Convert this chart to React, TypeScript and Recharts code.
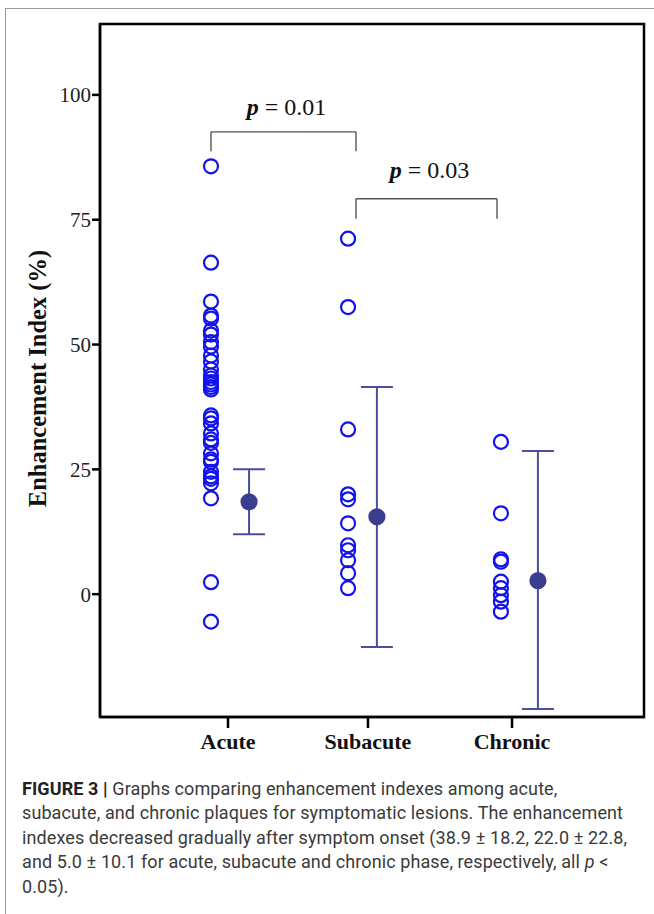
import React from 'react';
import {
  ScatterChart,
  Scatter,
  XAxis,
  YAxis,
  ErrorBar,
  ReferenceArea,
  ReferenceLine,
} from 'recharts';

// ---------- data ----------
const categories = ['Acute', 'Subacute', 'Chronic'];

const acuteValues = [
  85.7, 66.4, 58.6, 55.8, 55.2, 52.8, 52.0, 50.5, 49.6, 47.8, 46.6, 45.0, 43.8,
  43.2, 42.5, 42.0, 41.5, 41.0, 35.8, 35.2, 34.2, 32.2, 31.0, 30.3, 28.2, 27.0,
  26.5, 24.5, 23.6, 23.1, 22.2, 19.2, 2.4, -5.5,
];
const subacuteValues = [71.2, 57.5, 33.0, 20.0, 19.0, 14.2, 9.8, 8.8, 6.8, 4.2, 1.2];
const chronicValues = [30.5, 16.2, 7.0, 6.5, 2.5, 1.2, -0.2, -1.5, -3.5];

const groupMeans = [18.5, 15.5, 2.7];
const groupErrLow = [6.5, 26.1, 25.7];
const groupErrHigh = [6.5, 26.0, 26.0];

const yTicks = [0, 25, 50, 75, 100];

const pValues = ['0.01', '0.03'];

// ---------- layout (positions on a 0..1 x-scale) ----------
const TICK_POS = [0.2353, 0.4926, 0.7574];
const DOT_POS = [0.204, 0.456, 0.737];
const MEAN_POS = [0.274, 0.509, 0.805];
const Y_DOMAIN: [number, number] = [-24.6, 114.2];
const BRACKETS = [
  { x1: 0.204, x2: 0.4706, top: 92.6, leg: 88.7, textGap: 17 },
  { x1: 0.4706, x2: 0.7298, top: 79.2, leg: 75.2, textGap: 21 },
];

const groups = [acuteValues, subacuteValues, chronicValues];
const pointData = groups.flatMap((vals, gi) =>
  vals.map((v) => ({ x: DOT_POS[gi], y: v }))
);
const meanData = groupMeans.map((m, i) => ({
  x: MEAN_POS[i],
  y: m,
  err: [groupErrLow[i], groupErrHigh[i]],
}));

const OpenCircle = (props: any) => {
  const { cx, cy } = props;
  if (cx == null || cy == null) return null;
  return <circle cx={cx} cy={cy} r={7} fill="none" stroke="#1212ee" strokeWidth={2.2} />;
};
const MeanDot = (props: any) => {
  const { cx, cy } = props;
  if (cx == null || cy == null) return null;
  return <circle cx={cx} cy={cy} r={8.6} fill="#3b3e8e" />;
};

const serif = '"Liberation Serif", "Times New Roman", serif';

export default function App() {
  return (
    <div
      style={{
        position: 'absolute',
        left: 0,
        top: 0,
        width: 654,
        height: 914,
        background: '#fff',
        overflow: 'hidden',
      }}
    >
      <div
        style={{
          position: 'absolute',
          left: 5,
          top: 8,
          width: 660,
          height: 920,
          borderLeft: '1.5px solid #9a9a9a',
          borderTop: '1.5px solid #9a9a9a',
        }}
      />
      <div style={{ position: 'absolute', left: 0, top: 0 }}>
        <ScatterChart
          width={654}
          height={760}
          margin={{ top: 24, right: 10, bottom: 3, left: 40 }}
        >
          <XAxis
            type="number"
            dataKey="x"
            domain={[0, 1]}
            ticks={TICK_POS}
            allowDataOverflow
            tickFormatter={(v: number) => categories[TICK_POS.indexOf(v)] ?? ''}
            axisLine={{ stroke: '#000', strokeWidth: 2.5 }}
            tickLine={{ stroke: '#000', strokeWidth: 2.5 }}
            tickSize={11}
            tickMargin={5}
            height={40}
            tick={{ fontFamily: serif, fontSize: 22, fontWeight: 'bold', fill: '#111' }}
          />
          <YAxis
            type="number"
            dataKey="y"
            domain={Y_DOMAIN}
            ticks={yTicks}
            allowDataOverflow
            axisLine={{ stroke: '#000', strokeWidth: 2.5 }}
            tickLine={{ stroke: '#000', strokeWidth: 2.5 }}
            tickSize={8}
            tickMargin={1}
            width={60}
            tick={{ fontFamily: serif, fontSize: 21, fill: '#222' }}
            label={{
              content: (p: any) => {
                const vb = p.viewBox || { x: 40, y: 24, width: 60, height: 693 };
                const cx = vb.x - 3;
                const cy = vb.y + vb.height / 2 + 8;
                return (
                  <text
                    x={cx}
                    y={cy}
                    transform={`rotate(-90 ${cx} ${cy})`}
                    textAnchor="middle"
                    dominantBaseline="central"
                    fontFamily={serif}
                    fontSize={24.5}
                    fontWeight="bold"
                    fill="#111"
                  >
                    Enhancement Index (%)
                  </text>
                );
              },
            }}
          />
          <ReferenceArea
            x1={0}
            x2={1}
            y1={Y_DOMAIN[0]}
            y2={Y_DOMAIN[1]}
            fill="none"
            stroke="#000"
            strokeWidth={2.5}
            ifOverflow="visible"
          />
          {BRACKETS.map((b, i) => (
            <ReferenceLine
              key={`bt${i}`}
              segment={[
                { x: b.x1, y: b.top },
                { x: b.x2, y: b.top },
              ]}
              stroke="#555"
              strokeWidth={1.4}
              ifOverflow="visible"
              label={{
                content: (p: any) => {
                  const vb = p.viewBox || {};
                  const cx = (vb.x ?? 0) + (vb.width ?? 0) / 2 + 3;
                  const cy = (vb.y ?? 0) - b.textGap;
                  return (
                    <text
                      x={cx}
                      y={cy}
                      textAnchor="middle"
                      fontFamily={serif}
                      fontSize={24}
                      fill="#111"
                    >
                      <tspan fontStyle="italic" fontWeight="bold">p</tspan>
                      <tspan> = {pValues[i]}</tspan>
                    </text>
                  );
                },
              }}
            />
          ))}
          {BRACKETS.flatMap((b, i) => [
            <ReferenceLine
              key={`bl${i}`}
              segment={[
                { x: b.x1, y: b.top },
                { x: b.x1, y: b.leg },
              ]}
              stroke="#555"
              strokeWidth={1.4}
              ifOverflow="visible"
            />,
            <ReferenceLine
              key={`br${i}`}
              segment={[
                { x: b.x2, y: b.top },
                { x: b.x2, y: b.leg },
              ]}
              stroke="#555"
              strokeWidth={1.4}
              ifOverflow="visible"
            />,
          ])}
          <Scatter data={pointData} shape={OpenCircle} isAnimationActive={false} />
          <Scatter data={meanData} shape={MeanDot} isAnimationActive={false}>
            <ErrorBar
              dataKey="err"
              direction="y"
              width={16}
              stroke="#4a4e9c"
              strokeWidth={2}
              isAnimationActive={false}
            />
          </Scatter>
        </ScatterChart>
      </div>
      <div
        style={{
          position: 'absolute',
          left: 22,
          top: 777,
          fontFamily: 'Roboto, "Liberation Sans", sans-serif',
          fontSize: 18,
          letterSpacing: '0.1px',
          lineHeight: '24.4px',
          color: '#3a3a3a',
          whiteSpace: 'nowrap',
        }}
      >
        <div>
          <span style={{ fontWeight: 'bold', color: '#222' }}>FIGURE 3 |</span> Graphs
          comparing enhancement indexes among acute,
        </div>
        <div>subacute, and chronic plaques for symptomatic lesions. The enhancement</div>
        <div>
          indexes decreased gradually after symptom onset (38.9 ± 18.2, 22.0 ± 22.8,
        </div>
        <div>
          and 5.0 ± 10.1 for acute, subacute and chronic phase, respectively, all{' '}
          <i>p</i> &lt;
        </div>
        <div>0.05).</div>
      </div>
    </div>
  );
}
